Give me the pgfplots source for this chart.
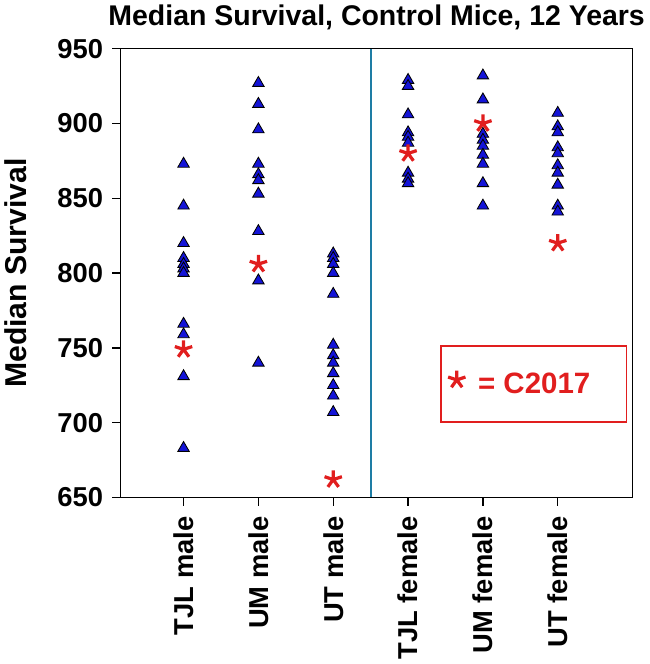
\documentclass[border=0pt]{standalone}
\usepackage{pgfplots}
\pgfplotsset{compat=1.18}
\usepackage{fontspec}
\setmainfont{Liberation Sans}
\definecolor{triblue}{RGB}{20,20,215}
\definecolor{starred}{RGB}{225,30,30}
\definecolor{sepline}{RGB}{30,125,165}
\begin{document}
\begin{tikzpicture}
\begin{axis}[
  name=ax,
  scale only axis, width=365pt, height=320pt,
  xmin=0.16, xmax=7, ymin=650, ymax=950,
  xtick={1,...,6},
  xticklabels={TJL male, UM male, UT male, TJL female, UM female, UT female},
  ytick={650,700,...,950},
  /pgf/number format/assume math mode=true,
  /pgf/number format/1000 sep={},
  x tick label style={rotate=90, anchor=east, xshift=-4pt, font=\fontsize{19.5}{20}\selectfont\bfseries},
  y tick label style={xshift=-3pt, font=\fontsize{19.5}{20}\selectfont\bfseries},
  ylabel={Median Survival},
  ylabel shift=15pt,
  ylabel style={font=\fontsize{21.5}{22}\selectfont\bfseries},
  title={Median Survival, Control Mice, 12 Years},
  title style={font=\fontsize{20.3}{21}\selectfont\bfseries, yshift=4pt},
  tick align=outside, xtick pos=bottom, ytick pos=left,
  major tick length=6pt,
  tick style={black, line width=0.9pt},
  axis line style={line width=0.9pt},
  legend style={at={(0.99,0.167)}, anchor=south east, draw=starred, line width=1pt,
    font=\fontsize{21}{21}\selectfont\bfseries, text=starred,
    inner xsep=5pt, inner ysep=17pt},
  legend image code/.code={\draw[#1] (0.15cm,0.1cm) -- plot coordinates {(0.15cm,0.1cm)}; \path (17pt,0.1cm);},
]
\addplot[only marks, mark=triangle*, mark size=4.7pt,
  mark options={fill=triblue, draw=black, line width=0.6pt}, forget plot] coordinates {
  (1,873) (1,845) (1,820) (1,810) (1,806) (1,803) (1,800) (1,766) (1,759) (1,731) (1,683)
  (2,927) (2,913) (2,896) (2,873) (2,866) (2,862) (2,853) (2,828) (2,795) (2,740)
  (3,813) (3,810) (3,806) (3,800) (3,786) (3,752) (3,745) (3,740) (3,733) (3,725) (3,718) (3,707)
  (4,929) (4,925) (4,906) (4,894) (4,891) (4,887) (4,867) (4,863) (4,860)
  (5,932) (5,916) (5,893) (5,889) (5,885) (5,879) (5,873) (5,860) (5,845)
  (6,907) (6,898) (6,894) (6,884) (6,880) (6,872) (6,867) (6,859) (6,845) (6,841)
};
\addplot[only marks, mark=star, mark size=6.5pt, color=starred, mark options={line width=2.3pt}] coordinates {
  (1,749) (2,806) (3,662) (4,880) (5,900) (6,820)
};
\addlegendentry{= C2017\hspace*{19pt}\mbox{}}
\addplot[sepline, line width=1.3pt, forget plot] coordinates {(3.5,650) (3.5,950)};
\end{axis}
\path ([xshift=6pt]ax.east);
\end{tikzpicture}
\end{document}
